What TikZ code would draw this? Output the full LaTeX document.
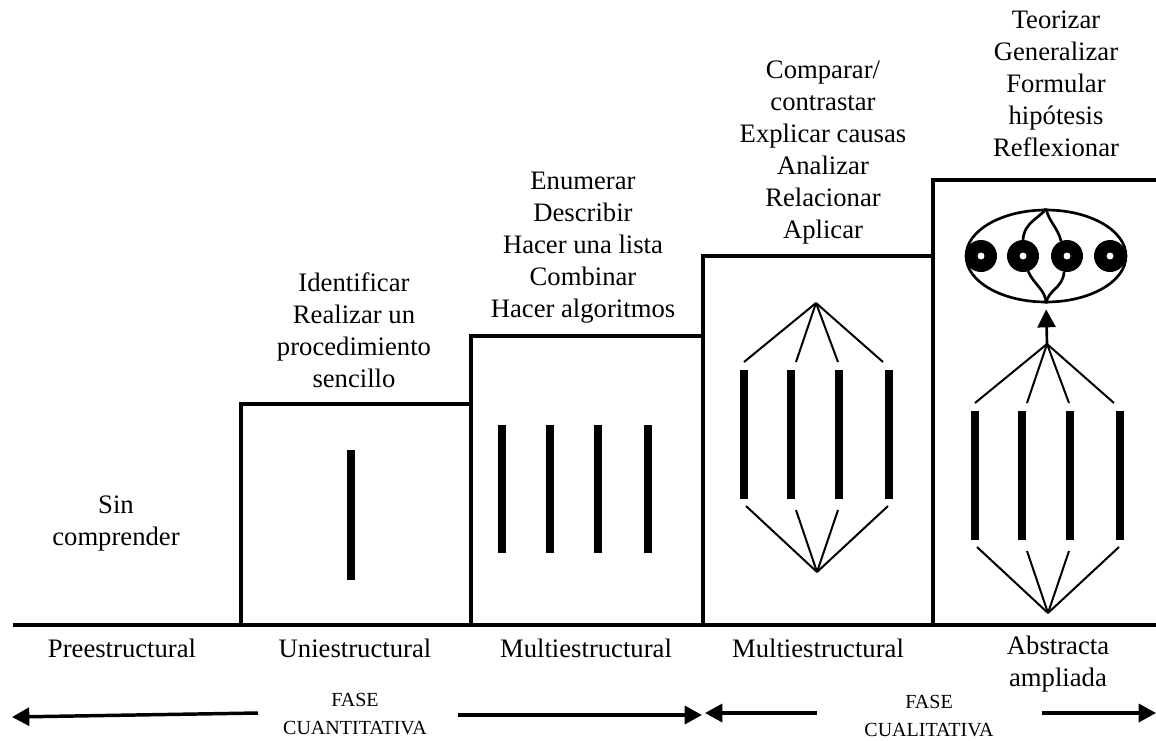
\documentclass[tikz,border=0pt]{standalone}
\usepackage{fontspec}
\setmainfont{Liberation Serif}
\usetikzlibrary{shapes.geometric,arrows.meta}
\tikzset{
  fan/.pic={
    \coordinate (-top) at (0,0);
    \coordinate (-bot) at (1,269);
    \foreach \i/\x in {1/-72,2/-25,3/23,4/73}{
      \node[bar, minimum height=96.75pt] (-b\i) at (\x,131.5) {};
    }
    \coordinate (-t1) at (-72,59);
    \coordinate (-t2) at (-20,59);
    \coordinate (-t3) at (22,59);
    \coordinate (-t4) at (67,59);
    \coordinate (-u1) at (-70,203);
    \coordinate (-u2) at (-20,207);
    \coordinate (-u3) at (22,207);
    \coordinate (-u4) at (72,203);
    \foreach \i in {1,...,4}{
      \draw[thinline] (-top) -- (-t\i);
      \draw[thinline] (-bot) -- (-u\i);
    }
  }
}
\begin{document}
\begin{tikzpicture}[x=0.75pt,y=-0.75pt,
  stepline/.style={line width=3.4pt, line join=miter},
  bar/.style={fill=black, inner sep=0pt, minimum width=6pt},
  thinline/.style={line width=1.5pt},
  lbl/.style={font=\fontsize{20}{24}\selectfont, align=center, inner sep=0pt},
  fase/.style={font=\fontsize{15}{21}\selectfont, align=center, inner sep=0pt},
  phasearrow/.style={line width=2.6pt, -{Triangle[length=13pt,width=13.5pt]}},
  blob/.style={circle, fill=black, minimum size=24pt, inner sep=0pt,
    path picture={\fill[white] (path picture bounding box.center) circle (2.6pt);}},
  ring/.style={line width=2pt},
]
\useasboundingbox (0,0) rectangle (1156,740);

% steps
\draw[stepline] (13,625) -- (1156,625);
\draw[stepline] (241,625) -- (241,404) -- (471,404) -- (471,625);
\draw[stepline] (471,404) -- (471,336) -- (703,336) -- (703,625);
\draw[stepline] (703,336) -- (703,256) -- (933,256) -- (933,625);
\draw[stepline] (933,256) -- (933,180) -- (1156,180);

% bars in box 1 and 2
\node[bar, minimum height=97.5pt] (u1) at (351,515) {};
\foreach \i/\x in {1/502,2/550,3/598,4/648}{
  \node[bar, minimum height=96pt] (m\i) at (\x,489) {};
}

% fans
\pic (fa) at (816,303) {fan};
\pic (fb) at (1047,344) {fan};

% ellipse
\node[ellipse, draw, ring, minimum width=120pt, minimum height=69pt, inner sep=0pt] (ell) at (1046,256) {};
\draw[ring] (ell.north) .. controls (1040,218) and (1024,222) .. (1023,240);
\draw[ring] (ell.north) .. controls (1049,222) and (1058,228) .. (1061,241);
\draw[ring] (1028,271) .. controls (1034,285) and (1046,290) .. (ell.south);
\draw[ring] (1064,272) .. controls (1063,288) and (1048,290) .. (ell.south);
\node[blob] (c1) at (981,256) {};
\node[blob] (c2) at (1023,256) {};
\node[blob] (c3) at (1067,256) {};
\node[blob] (c4) at (1110,256) {};
\draw[line width=2pt, -{Triangle[length=13.5pt,width=13.5pt]}, shorten >=4.5pt] (fb-top) -- (ell.south);

% texts
\node[lbl] (sin) at (116,523) {Sin\\comprender};
\node[lbl] (ident) at (354,330) {Identificar\\Realizar un\\procedimiento\\sencillo};
\node[lbl] (enum) at (583,248) {Enumerar\\Describir\\Hacer una lista\\Combinar\\Hacer algoritmos};
\node[lbl] (comp) at (823,153) {Comparar/\\contrastar\\Explicar causas\\Analizar\\Relacionar\\Aplicar};
\node[lbl] (teor) at (1056,84) {Teorizar\\Generalizar\\Formular\\hipótesis\\Reflexionar};

\node[lbl] (pre) at (122,648) {Preestructural};
\node[lbl] (uni) at (355,648) {Uniestructural};
\node[lbl] (multi1) at (586,648) {Multiestructural};
\node[lbl] (multi2) at (818,648) {Multiestructural};
\node[lbl] (abs) at (1058,664) {Abstracta\\ampliada};

\node[fase] (fq) at (355,714) {FASE\\CUANTITATIVA};
\node[fase] (fl) at (929,716) {FASE\\CUALITATIVA};

% phase arrows
\coordinate (la1) at (258,713); \coordinate (la2) at (12,717);
\coordinate (ra1) at (458,715); \coordinate (ra2) at (702,715);
\coordinate (lb1) at (817,713); \coordinate (lb2) at (705,713);
\coordinate (rb1) at (1042,713); \coordinate (rb2) at (1156,713);
\draw[phasearrow] (la1) -- (la2);
\draw[phasearrow] (ra1) -- (ra2);
\draw[phasearrow] (lb1) -- (lb2);
\draw[phasearrow] (rb1) -- (rb2);
\end{tikzpicture}
\end{document}
